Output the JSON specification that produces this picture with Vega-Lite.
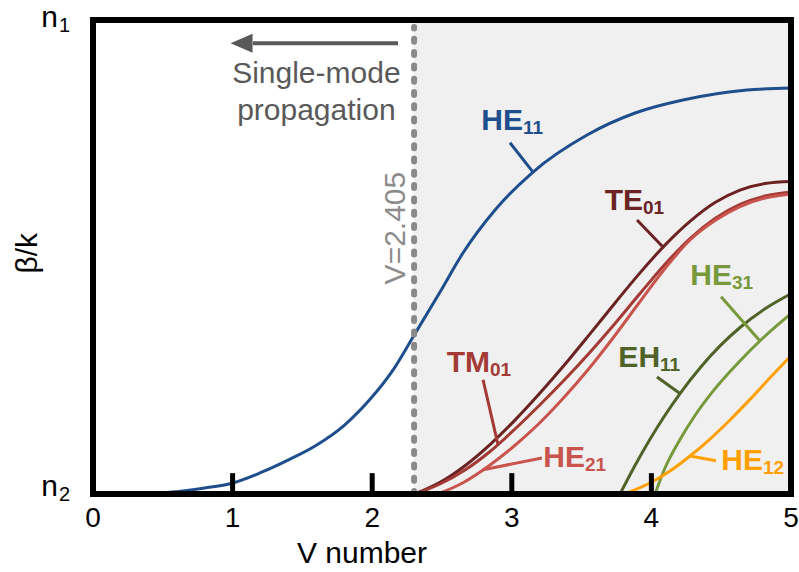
{
  "$schema": "https://vega.github.io/schema/vega-lite/v6.json",
  "width": 698,
  "height": 474,
  "autosize": {"type": "none"},
  "padding": {"left": 93, "top": 20, "right": 8, "bottom": 78},
  "background": "white",
  "config": {"view": {"stroke": null}, "font": "Liberation Sans, Arial, sans-serif"},
  "datasets": {
    "curves": [
      {"mode": "HE11", "V": 0, "b": 0}, {"mode": "HE11", "V": 0.39, "b": 0.0005}, {"mode": "HE11", "V": 0.6, "b": 0.005}, {"mode": "HE11", "V": 0.8, "b": 0.0127}, {"mode": "HE11", "V": 0.974, "b": 0.021}, {"mode": "HE11", "V": 1.2, "b": 0.045}, {"mode": "HE11", "V": 1.4, "b": 0.072}, {"mode": "HE11", "V": 1.6, "b": 0.103}, {"mode": "HE11", "V": 1.8, "b": 0.145}, {"mode": "HE11", "V": 2.0, "b": 0.205}, {"mode": "HE11", "V": 2.15, "b": 0.262}, {"mode": "HE11", "V": 2.3, "b": 0.335}, {"mode": "HE11", "V": 2.486, "b": 0.4262}, {"mode": "HE11", "V": 2.65, "b": 0.5084}, {"mode": "HE11", "V": 2.88, "b": 0.5992}, {"mode": "HE11", "V": 3.152, "b": 0.6793}, {"mode": "HE11", "V": 3.539, "b": 0.7574}, {"mode": "HE11", "V": 3.883, "b": 0.8038}, {"mode": "HE11", "V": 4.226, "b": 0.8312}, {"mode": "HE11", "V": 4.685, "b": 0.8523}, {"mode": "HE11", "V": 5.0, "b": 0.8565},
      {"mode": "TE01", "V": 2.3066, "b": 0}, {"mode": "TE01", "V": 2.4857, "b": 0.0245}, {"mode": "TE01", "V": 2.6648, "b": 0.0597}, {"mode": "TE01", "V": 2.8438, "b": 0.1042}, {"mode": "TE01", "V": 3.0229, "b": 0.1559}, {"mode": "TE01", "V": 3.202, "b": 0.2129}, {"mode": "TE01", "V": 3.3811, "b": 0.2736}, {"mode": "TE01", "V": 3.5602, "b": 0.3378}, {"mode": "TE01", "V": 3.7393, "b": 0.403}, {"mode": "TE01", "V": 3.9183, "b": 0.4665}, {"mode": "TE01", "V": 4.0974, "b": 0.5251}, {"mode": "TE01", "V": 4.2765, "b": 0.5751}, {"mode": "TE01", "V": 4.4556, "b": 0.6148}, {"mode": "TE01", "V": 4.6347, "b": 0.6411}, {"mode": "TE01", "V": 4.8138, "b": 0.6549}, {"mode": "TE01", "V": 5.0, "b": 0.6591},
      {"mode": "TM01", "V": 2.3066, "b": 0}, {"mode": "TM01", "V": 2.4857, "b": 0.0211}, {"mode": "TM01", "V": 2.6648, "b": 0.0506}, {"mode": "TM01", "V": 2.8438, "b": 0.0897}, {"mode": "TM01", "V": 3.0229, "b": 0.1371}, {"mode": "TM01", "V": 3.202, "b": 0.1883}, {"mode": "TM01", "V": 3.3811, "b": 0.2421}, {"mode": "TM01", "V": 3.5602, "b": 0.2991}, {"mode": "TM01", "V": 3.7393, "b": 0.3597}, {"mode": "TM01", "V": 3.9183, "b": 0.423}, {"mode": "TM01", "V": 4.0974, "b": 0.4847}, {"mode": "TM01", "V": 4.2765, "b": 0.539}, {"mode": "TM01", "V": 4.4556, "b": 0.5812}, {"mode": "TM01", "V": 4.6347, "b": 0.6108}, {"mode": "TM01", "V": 4.8138, "b": 0.6287}, {"mode": "TM01", "V": 5.0, "b": 0.6371},
      {"mode": "HE21", "V": 2.4713, "b": 0}, {"mode": "HE21", "V": 2.6504, "b": 0.0237}, {"mode": "HE21", "V": 2.8295, "b": 0.058}, {"mode": "HE21", "V": 3.0086, "b": 0.0992}, {"mode": "HE21", "V": 3.1877, "b": 0.1466}, {"mode": "HE21", "V": 3.3668, "b": 0.2015}, {"mode": "HE21", "V": 3.5458, "b": 0.2621}, {"mode": "HE21", "V": 3.7249, "b": 0.3291}, {"mode": "HE21", "V": 3.904, "b": 0.4003}, {"mode": "HE21", "V": 4.0831, "b": 0.4705}, {"mode": "HE21", "V": 4.2765, "b": 0.5359}, {"mode": "HE21", "V": 4.4556, "b": 0.577}, {"mode": "HE21", "V": 4.6347, "b": 0.6065}, {"mode": "HE21", "V": 4.8138, "b": 0.6245}, {"mode": "HE21", "V": 5.0, "b": 0.6329},
      {"mode": "EH11", "V": 3.7751, "b": 0}, {"mode": "EH11", "V": 3.8825, "b": 0.0601}, {"mode": "EH11", "V": 3.99, "b": 0.1155}, {"mode": "EH11", "V": 4.0974, "b": 0.1661}, {"mode": "EH11", "V": 4.2049, "b": 0.212}, {"mode": "EH11", "V": 4.3481, "b": 0.266}, {"mode": "EH11", "V": 4.4914, "b": 0.3124}, {"mode": "EH11", "V": 4.6347, "b": 0.3513}, {"mode": "EH11", "V": 4.8138, "b": 0.3908}, {"mode": "EH11", "V": 5.0, "b": 0.4225},
      {"mode": "HE31", "V": 4.0258, "b": 0}, {"mode": "HE31", "V": 4.0974, "b": 0.0549}, {"mode": "HE31", "V": 4.2049, "b": 0.115}, {"mode": "HE31", "V": 4.3123, "b": 0.1656}, {"mode": "HE31", "V": 4.4413, "b": 0.2169}, {"mode": "HE31", "V": 4.6203, "b": 0.2764}, {"mode": "HE31", "V": 4.7994, "b": 0.3291}, {"mode": "HE31", "V": 5.0, "b": 0.3804},
      {"mode": "HE12", "V": 3.8037, "b": 0}, {"mode": "HE12", "V": 3.99, "b": 0.0232}, {"mode": "HE12", "V": 4.1332, "b": 0.0485}, {"mode": "HE12", "V": 4.2765, "b": 0.0802}, {"mode": "HE12", "V": 4.4198, "b": 0.116}, {"mode": "HE12", "V": 4.563, "b": 0.1561}, {"mode": "HE12", "V": 4.7063, "b": 0.1996}, {"mode": "HE12", "V": 4.8496, "b": 0.2451}, {"mode": "HE12", "V": 5.0, "b": 0.2916}
    ],
    "leaders": [
      {"mode": "HE11", "V": 2.987, "b": 0.741, "V2": 3.152, "b2": 0.679},
      {"mode": "TE01", "V": 3.897, "b": 0.578, "V2": 4.083, "b2": 0.521},
      {"mode": "TM01", "V": 2.794, "b": 0.241, "V2": 2.901, "b2": 0.104},
      {"mode": "HE21", "V": 3.216, "b": 0.076, "V2": 2.794, "b2": 0.051},
      {"mode": "EH11", "V": 4.04, "b": 0.247, "V2": 4.205, "b2": 0.212},
      {"mode": "HE31", "V": 4.499, "b": 0.416, "V2": 4.778, "b2": 0.323},
      {"mode": "HE12", "V": 4.463, "b": 0.07, "V2": 4.277, "b2": 0.0802}
    ],
    "labels": [
      {"mode": "HE11", "main": "HE", "sub": "11", "V": 3.08, "b": 0.768},
      {"mode": "TE01", "main": "TE", "sub": "01", "V": 3.94, "b": 0.599},
      {"mode": "TM01", "main": "TM", "sub": "01", "V": 2.844, "b": 0.257},
      {"mode": "HE21", "main": "HE", "sub": "21", "V": 3.524, "b": 0.057},
      {"mode": "EH11", "main": "EH", "sub": "11", "V": 4.062, "b": 0.268},
      {"mode": "HE31", "main": "HE", "sub": "31", "V": 4.577, "b": 0.441},
      {"mode": "HE12", "main": "HE", "sub": "12", "V": 4.799, "b": 0.051}
    ],
    "cutoff": [{"V": 2.3, "Vend": 5, "label": "V=2.405", "labelV": 2.235, "labelB": 0.561}],
    "ticks": [{"V": 1}, {"V": 2}, {"V": 3}, {"V": 4}],
    "xlabels": [
      {"V": 0, "text": "0", "b": -0.0696}, {"V": 1, "text": "1", "b": -0.0696}, {"V": 2, "text": "2", "b": -0.0696},
      {"V": 3, "text": "3", "b": -0.0696}, {"V": 4, "text": "4", "b": -0.0696}, {"V": 5, "text": "5", "b": -0.0696}
    ],
    "xtitle": [{"text": "V number", "V": 1.927, "b": -0.1456}],
    "arrow": [{"V": 1.146, "V2": 2.185, "b": 0.951, "headV": 1.064}],
    "notes": [
      {"text": "Single-mode", "V": 1.6, "b": 0.867},
      {"text": "propagation", "V": 1.6, "b": 0.789}
    ],
    "nlabels": [
      {"main": "n", "sub": "1", "V": -0.251, "b": 0.985},
      {"main": "n", "sub": "2", "V": -0.251, "b": -0.004}
    ],
    "ytitle": [{"text": "β/k", "V": -0.401, "b": 0.508}]
  },
  "layer": [
    {
      "data": {"name": "cutoff"},
      "mark": {"type": "rect", "color": "#f0f0f0"},
      "encoding": {
        "x": {"field": "V", "type": "quantitative", "scale": {"domain": [0, 5], "nice": false, "zero": false}, "axis": null},
        "x2": {"field": "Vend"},
        "y": {"datum": 0, "type": "quantitative", "scale": {"domain": [0, 1], "nice": false, "zero": false}, "axis": null},
        "y2": {"datum": 1}
      }
    },
    {
      "data": {"name": "curves"},
      "mark": {"type": "line", "strokeWidth": 3, "interpolate": "monotone"},
      "encoding": {
        "x": {"field": "V", "type": "quantitative", "axis": null},
        "y": {"field": "b", "type": "quantitative", "axis": null},
        "color": {"field": "mode", "type": "nominal", "legend": null,
          "scale": {"domain": ["HE11", "TE01", "TM01", "HE21", "EH11", "HE31", "HE12"], "range": ["#1f4e8c", "#6b2222", "#a33a35", "#c9544e", "#4f6228", "#77993b", "#ffa000"]}}
      }
    },
    {
      "data": {"name": "cutoff"},
      "mark": {"type": "rule", "color": "#8a8a8a", "strokeWidth": 6, "strokeDash": [3, 10.3], "strokeCap": "round"},
      "encoding": {
        "x": {"field": "V", "type": "quantitative", "axis": null},
        "y": {"datum": 0, "type": "quantitative", "axis": null},
        "y2": {"datum": 0.985}
      }
    },
    {
      "data": {"name": "cutoff"},
      "mark": {"type": "text", "color": "#8c8c8c", "fontSize": 30, "angle": 270, "align": "center", "baseline": "alphabetic"},
      "encoding": {
        "x": {"field": "labelV", "type": "quantitative", "axis": null},
        "y": {"field": "labelB", "type": "quantitative", "axis": null},
        "text": {"field": "label"}
      }
    },
    {
      "data": {"name": "leaders"},
      "mark": {"type": "rule", "strokeWidth": 3},
      "encoding": {
        "x": {"field": "V", "type": "quantitative", "axis": null},
        "y": {"field": "b", "type": "quantitative", "axis": null},
        "x2": {"field": "V2"},
        "y2": {"field": "b2"},
        "color": {"field": "mode", "type": "nominal", "legend": null}
      }
    },
    {
      "data": {"name": "labels"},
      "mark": {"type": "text", "fontSize": 30, "fontWeight": "bold", "align": "right", "baseline": "alphabetic"},
      "encoding": {
        "x": {"field": "V", "type": "quantitative", "axis": null},
        "y": {"field": "b", "type": "quantitative", "axis": null},
        "text": {"field": "main"},
        "color": {"field": "mode", "type": "nominal", "legend": null}
      }
    },
    {
      "data": {"name": "labels"},
      "mark": {"type": "text", "fontSize": 19, "fontWeight": "bold", "align": "left", "baseline": "alphabetic", "dy": 4},
      "encoding": {
        "x": {"field": "V", "type": "quantitative", "axis": null},
        "y": {"field": "b", "type": "quantitative", "axis": null},
        "text": {"field": "sub"},
        "color": {"field": "mode", "type": "nominal", "legend": null}
      }
    },
    {
      "data": {"name": "ticks"},
      "mark": {"type": "rule", "color": "black", "strokeWidth": 5},
      "encoding": {
        "x": {"field": "V", "type": "quantitative", "axis": null},
        "y": {"datum": 0, "type": "quantitative", "axis": null},
        "y2": {"datum": 0.044}
      }
    },
    {
      "data": {"values": [{}]},
      "mark": {"type": "rule", "color": "black", "strokeWidth": 6, "strokeCap": "square"},
      "encoding": {
        "x": {"datum": 0, "type": "quantitative", "axis": null},
        "y": {"datum": 0, "type": "quantitative", "axis": null},
        "y2": {"datum": 1}
      }
    },
    {
      "data": {"values": [{}]},
      "mark": {"type": "rule", "color": "black", "strokeWidth": 6, "strokeCap": "square"},
      "encoding": {
        "x": {"datum": 5, "type": "quantitative", "axis": null},
        "y": {"datum": 0, "type": "quantitative", "axis": null},
        "y2": {"datum": 1}
      }
    },
    {
      "data": {"values": [{}]},
      "mark": {"type": "rule", "color": "black", "strokeWidth": 6, "strokeCap": "square"},
      "encoding": {
        "y": {"datum": 0, "type": "quantitative", "axis": null},
        "x": {"datum": 0, "type": "quantitative", "axis": null},
        "x2": {"datum": 5}
      }
    },
    {
      "data": {"values": [{}]},
      "mark": {"type": "rule", "color": "black", "strokeWidth": 6, "strokeCap": "square"},
      "encoding": {
        "y": {"datum": 1, "type": "quantitative", "axis": null},
        "x": {"datum": 0, "type": "quantitative", "axis": null},
        "x2": {"datum": 5}
      }
    },
    {
      "data": {"name": "xlabels"},
      "mark": {"type": "text", "color": "black", "fontSize": 28, "align": "center", "baseline": "alphabetic"},
      "encoding": {
        "x": {"field": "V", "type": "quantitative", "axis": null},
        "y": {"field": "b", "type": "quantitative", "axis": null},
        "text": {"field": "text"}
      }
    },
    {
      "data": {"name": "xtitle"},
      "mark": {"type": "text", "color": "black", "fontSize": 30, "align": "center", "baseline": "alphabetic"},
      "encoding": {
        "x": {"field": "V", "type": "quantitative", "axis": null},
        "y": {"field": "b", "type": "quantitative", "axis": null},
        "text": {"field": "text"}
      }
    },
    {
      "data": {"name": "arrow"},
      "mark": {"type": "rule", "color": "#595959", "strokeWidth": 4},
      "encoding": {
        "x": {"field": "V", "type": "quantitative", "axis": null},
        "x2": {"field": "V2"},
        "y": {"field": "b", "type": "quantitative", "axis": null}
      }
    },
    {
      "data": {"name": "arrow"},
      "mark": {"type": "point", "shape": "M-1,0L1,-0.87L1,0.87Z", "filled": true, "color": "#595959", "opacity": 1, "size": 484, "strokeWidth": 0},
      "encoding": {
        "x": {"field": "headV", "type": "quantitative", "axis": null},
        "y": {"field": "b", "type": "quantitative", "axis": null}
      }
    },
    {
      "data": {"name": "notes"},
      "mark": {"type": "text", "color": "#595959", "fontSize": 30, "align": "center", "baseline": "alphabetic"},
      "encoding": {
        "x": {"field": "V", "type": "quantitative", "axis": null},
        "y": {"field": "b", "type": "quantitative", "axis": null},
        "text": {"field": "text"}
      }
    },
    {
      "data": {"name": "nlabels"},
      "mark": {"type": "text", "color": "black", "fontSize": 30, "align": "right", "baseline": "alphabetic"},
      "encoding": {
        "x": {"field": "V", "type": "quantitative", "axis": null},
        "y": {"field": "b", "type": "quantitative", "axis": null},
        "text": {"field": "main"}
      }
    },
    {
      "data": {"name": "nlabels"},
      "mark": {"type": "text", "color": "black", "fontSize": 20, "align": "left", "baseline": "alphabetic", "dx": 1, "dy": 5},
      "encoding": {
        "x": {"field": "V", "type": "quantitative", "axis": null},
        "y": {"field": "b", "type": "quantitative", "axis": null},
        "text": {"field": "sub"}
      }
    },
    {
      "data": {"name": "ytitle"},
      "mark": {"type": "text", "color": "black", "fontSize": 30, "angle": 270, "align": "center", "baseline": "alphabetic"},
      "encoding": {
        "x": {"field": "V", "type": "quantitative", "axis": null},
        "y": {"field": "b", "type": "quantitative", "axis": null},
        "text": {"field": "text"}
      }
    }
  ]
}
